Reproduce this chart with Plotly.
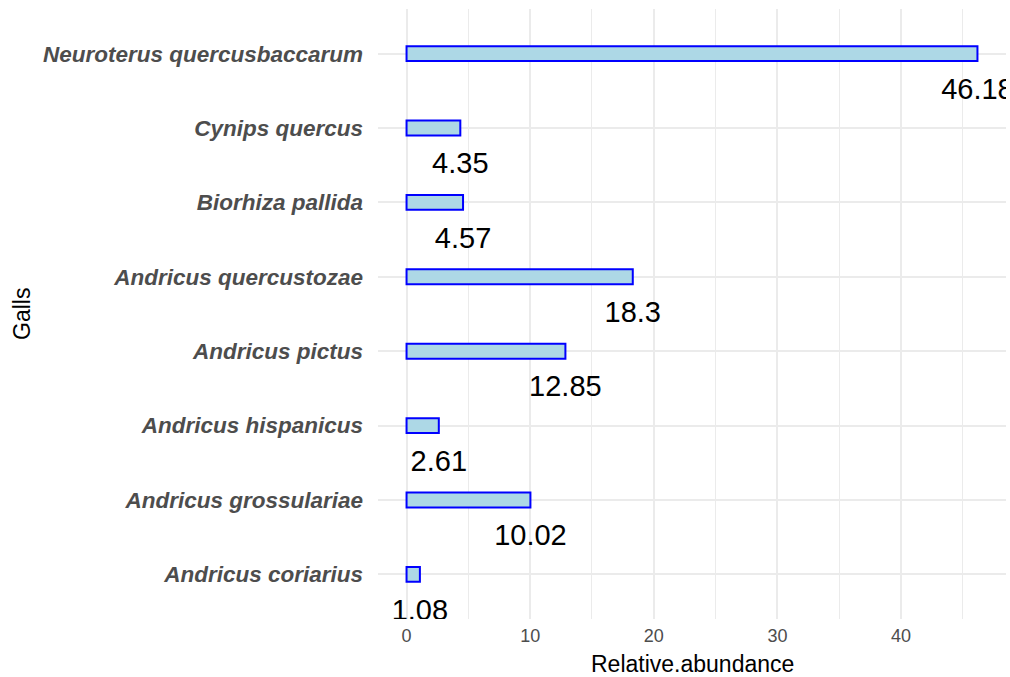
import plotly.graph_objects as go

galls = ["Andricus coriarius", "Andricus grossulariae", "Andricus hispanicus",
         "Andricus pictus", "Andricus quercustozae", "Biorhiza pallida",
         "Cynips quercus", "Neuroterus quercusbaccarum"]
abundance = [1.08, 10.02, 2.61, 12.85, 18.3, 4.57, 4.35, 46.18]
labels = [f"{v:g}" for v in abundance]

pos = list(range(len(galls)))
label_offset = 0.51

xmax = max(abundance)
pad = 0.05 * xmax
FONT = "Liberation Sans, Arial, sans-serif"

fig = go.Figure()
fig.add_trace(go.Bar(
    x=abundance, y=pos, orientation="h", width=0.2,
    marker=dict(color="#ADD8E6", line=dict(color="blue", width=2)),
    showlegend=False, hoverinfo="skip"))
fig.add_trace(go.Scatter(
    x=abundance, y=[p - label_offset for p in pos], mode="text",
    text=labels, textposition="middle center",
    textfont=dict(family=FONT, size=29, color="black"),
    cliponaxis=True, showlegend=False, hoverinfo="skip"))

fig.update_layout(
    width=1010, height=677,
    margin=dict(l=378, r=4, t=9, b=58),
    plot_bgcolor="white", paper_bgcolor="white",
    font=dict(family=FONT),
    xaxis=dict(
        range=[-pad, xmax + pad], tickvals=[0, 10, 20, 30, 40],
        showgrid=True, gridcolor="#EBEBEB", gridwidth=2,
        minor=dict(dtick=5, tick0=0, showgrid=True, gridcolor="#EBEBEB", gridwidth=1),
        zeroline=False, showline=False, ticks="",
        tickfont=dict(size=18, color="#4D4D4D"),
        ticklabelstandoff=4,
        automargin=False,
    ),
    yaxis=dict(
        range=[-0.6, len(galls) - 0.4], tickvals=pos, ticktext=galls,
        showgrid=True, gridcolor="#EBEBEB", gridwidth=2,
        zeroline=False, showline=False, ticks="",
        tickfont=dict(size=22.5, color="#4D4D4D", weight="bold", style="italic"),
        ticklabelstandoff=14,
        automargin=False,
    ),
    annotations=[
        dict(text="Relative.abundance", xref="paper", yref="paper", x=0.5, y=0,
             yshift=-45, xanchor="center", yanchor="middle", showarrow=False,
             font=dict(family=FONT, size=23, color="black")),
        dict(text="Galls", xref="paper", x=0, xshift=-356, yref="paper", y=0.5,
             textangle=-90, xanchor="center", yanchor="middle", showarrow=False,
             font=dict(family=FONT, size=23, color="black")),
    ],
)

fig.write_html("out.html", config={"displayModeBar": False},
               post_script="document.body.style.margin='0';")
